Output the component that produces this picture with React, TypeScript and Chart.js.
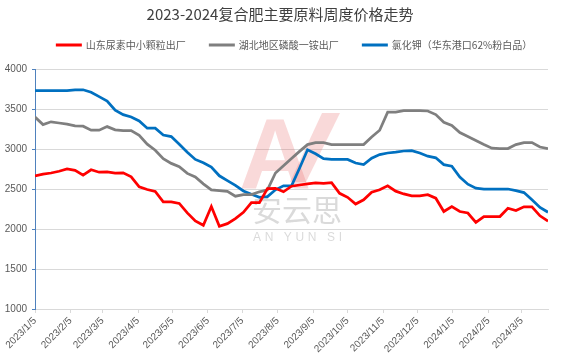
import React, { useEffect, useRef } from 'react';
import { Chart, registerables } from 'chart.js';

Chart.register(...registerables);

const TITLE = '2023-2024复合肥主要原料周度价格走势';
const START_DATE = '2023/1/5';
const TICK_LABELS = [
  '2023/1/5', '2023/2/5', '2023/3/5', '2023/4/5', '2023/5/5', '2023/6/5', '2023/7/5',
  '2023/8/5', '2023/9/5', '2023/10/5', '2023/11/5', '2023/12/5', '2024/1/5', '2024/2/5', '2024/3/5',
];
const SERIES_NAMES = ['山东尿素中小颗粒出厂', '湖北地区磷酸一铵出厂', '氯化钾（华东港口62%粉白品）'];
const SERIES_COLORS = ['#FF0000', '#7F7F7F', '#0070C0'];

// weekly prices (yuan/ton), one value per week starting 2023/1/5
const UREA = [
  2665, 2685, 2700, 2722, 2750, 2733, 2673, 2740, 2710, 2715,
  2700, 2702, 2652, 2527, 2494, 2469, 2340, 2340, 2319, 2202,
  2100, 2046, 2281, 2033, 2067, 2129, 2208, 2330, 2330, 2505,
  2508, 2465, 2535, 2550, 2565, 2575, 2570, 2580, 2446, 2396,
  2312, 2365, 2460, 2490, 2540, 2473, 2438, 2415, 2415, 2429,
  2385, 2219, 2281, 2219, 2200, 2082, 2156, 2156, 2156, 2260,
  2231, 2277, 2277, 2165, 2098,
];
const MAP = [
  3400, 3305, 3340, 3325, 3310, 3290, 3285, 3235, 3235, 3280,
  3240, 3230, 3230, 3170, 3060, 2985, 2880, 2820, 2780, 2695,
  2650, 2565, 2490, 2480, 2470, 2410, 2430, 2430, 2465, 2490,
  2700, 2790, 2880, 2970, 3055, 3080, 3080, 3055, 3055, 3055,
  3055, 3055, 3150, 3235, 3460, 3460, 3480, 3480, 3480, 3475,
  3430, 3335, 3295, 3205, 3155, 3105, 3055, 3010, 3005, 3005,
  3055, 3080, 3080, 3025, 3005,
];
const POTASH = [
  3730, 3730, 3730, 3730, 3730, 3740, 3740, 3710, 3655, 3600,
  3485, 3430, 3400, 3350, 3260, 3260, 3175, 3155, 3060, 2960,
  2870, 2828, 2775, 2665, 2605, 2545, 2475, 2435, 2395, 2405,
  2490, 2540, 2540, 2760, 2990, 2940, 2880, 2870, 2870, 2870,
  2825, 2805, 2885, 2930, 2950, 2960, 2975, 2980, 2950, 2910,
  2890, 2805, 2785, 2650, 2560, 2510, 2500, 2500, 2500, 2500,
  2480, 2455, 2365, 2270, 2210,
];
const SERIES = [UREA, MAP, POTASH];

const Y_MIN = 1000;
const Y_MAX = 4000;
const Y_STEP = 500;

const DAY_MS = 86400000;
const toUTC = (s: string) => {
  const [y, m, d] = s.split('/').map(Number);
  return Date.UTC(y, m - 1, d);
};
const dayOffset = (s: string) => Math.round((toUTC(s) - toUTC(START_DATE)) / DAY_MS);
const TICK_DAYS = TICK_LABELS.map(dayOffset);

const AXIS_FONT = '"Liberation Sans", Arial, "Noto Sans CJK SC", sans-serif';
const CJK_FONT = '"Noto Sans CJK SC", "Liberation Sans", sans-serif';

const drawSpaced = (ctx: CanvasRenderingContext2D, text: string, x0: number, x1: number, y: number) => {
  const chars = text.split('');
  const ws = chars.map((c) => ctx.measureText(c).width);
  const sum = ws.reduce((a, b) => a + b, 0);
  const extra = chars.length > 1 ? (x1 - x0 - sum) / (chars.length - 1) : 0;
  let x = x0;
  ctx.textAlign = 'left';
  chars.forEach((c, i) => {
    ctx.fillText(c, x, y);
    x += ws[i] + extra;
  });
};

const decorPlugin = {
  id: 'decor',
  beforeDatasetsDraw(chart: any) {
    const ctx = chart.ctx as CanvasRenderingContext2D;
    ctx.save();
    // watermark logo
    ctx.fillStyle = 'rgba(228, 80, 80, 0.22)';
    ctx.font = `bold 100px ${AXIS_FONT}`;
    ctx.textAlign = 'left';
    ctx.textBaseline = 'alphabetic';
    ctx.fillText('A', 239, 189);
    ctx.beginPath();
    ctx.moveTo(322, 113);
    ctx.lineTo(340, 113);
    ctx.lineTo(306, 182);
    ctx.lineTo(290, 182);
    ctx.closePath();
    ctx.fill();
    ctx.fillStyle = 'rgba(150, 150, 150, 0.35)';
    ctx.textBaseline = 'middle';
    ctx.font = `30px ${CJK_FONT}`;
    drawSpaced(ctx, '安云思', 252, 342, 210);
    ctx.font = `12px ${AXIS_FONT}`;
    drawSpaced(ctx, 'AN YUN SI', 253, 342, 238);
    ctx.restore();
  },
  afterDraw(chart: any) {
    const ctx = chart.ctx as CanvasRenderingContext2D;
    ctx.save();
    // title
    ctx.fillStyle = '#404040';
    ctx.font = `15px ${CJK_FONT}`;
    ctx.textAlign = 'center';
    ctx.textBaseline = 'middle';
    ctx.fillText(TITLE, 280, 14);
    // legend
    ctx.font = `10px ${CJK_FONT}`;
    ctx.textAlign = 'left';
    const lineLen = 26;
    const gap = 4;
    const itemGap = 23;
    const widths = SERIES_NAMES.map((n) => lineLen + gap + ctx.measureText(n).width);
    const total = widths.reduce((a, b) => a + b, 0) + itemGap * (widths.length - 1);
    let x = 294 - total / 2;
    const y = 45;
    SERIES_NAMES.forEach((name, k) => {
      ctx.strokeStyle = SERIES_COLORS[k];
      ctx.lineWidth = 3;
      ctx.beginPath();
      ctx.moveTo(x, y);
      ctx.lineTo(x + lineLen, y);
      ctx.stroke();
      ctx.fillStyle = '#595959';
      ctx.fillText(name, x + lineLen + gap, y);
      x += widths[k] + itemGap;
    });
    ctx.restore();
  },
};

export default function App() {
  const ref = useRef<HTMLCanvasElement | null>(null);

  useEffect(() => {
    if (!ref.current) return;
    const chart = new Chart(ref.current, {
      type: 'line',
      data: {
        datasets: SERIES.map((vals, k) => ({
          label: SERIES_NAMES[k],
          data: vals.map((v, i) => ({ x: i * 7, y: v })),
          borderColor: SERIES_COLORS[k],
          backgroundColor: SERIES_COLORS[k],
          borderWidth: 2.75,
          pointRadius: 0,
          tension: 0,
          fill: false,
        })),
      },
      options: {
        animation: false,
        responsive: false,
        maintainAspectRatio: false,
        layout: { padding: { top: 69, right: 22, left: 0, bottom: 0 } },
        plugins: {
          legend: { display: false },
          title: { display: false },
          tooltip: { enabled: false },
        },
        scales: {
          x: {
            type: 'linear',
            min: 0,
            max: (UREA.length - 1) * 7,
            afterBuildTicks: (s: any) => {
              s.ticks = TICK_DAYS.map((v) => ({ value: v }));
            },
            afterFit: (s: any) => {
              s.height = 53;
            },
            ticks: {
              autoSkip: false,
              minRotation: 45,
              maxRotation: 45,
              padding: 2,
              color: '#595959',
              font: { family: AXIS_FONT, size: 10 },
              callback: (_v: any, i: number) => TICK_LABELS[i],
            },
            grid: { drawOnChartArea: false, drawTicks: true, tickLength: 4, color: '#D9D9D9' },
            border: { color: '#D9D9D9' },
          },
          y: {
            min: Y_MIN,
            max: Y_MAX,
            afterFit: (s: any) => {
              s.width = 35;
            },
            ticks: {
              stepSize: Y_STEP,
              padding: 5,
              color: '#595959',
              font: { family: AXIS_FONT, size: 10 },
              callback: (v: any) => String(v),
            },
            grid: { color: '#D9D9D9', tickLength: 3, tickColor: '#4F81BD' },
            border: { color: '#4F81BD' },
          },
        },
      },
      plugins: [decorPlugin],
    } as any);
    return () => chart.destroy();
  }, []);

  return (
    <div style={{ position: 'absolute', left: 0, top: 0, width: 570, height: 362, background: '#fff' }}>
      <canvas ref={ref} width={570} height={362} style={{ display: 'block' }} />
    </div>
  );
}
